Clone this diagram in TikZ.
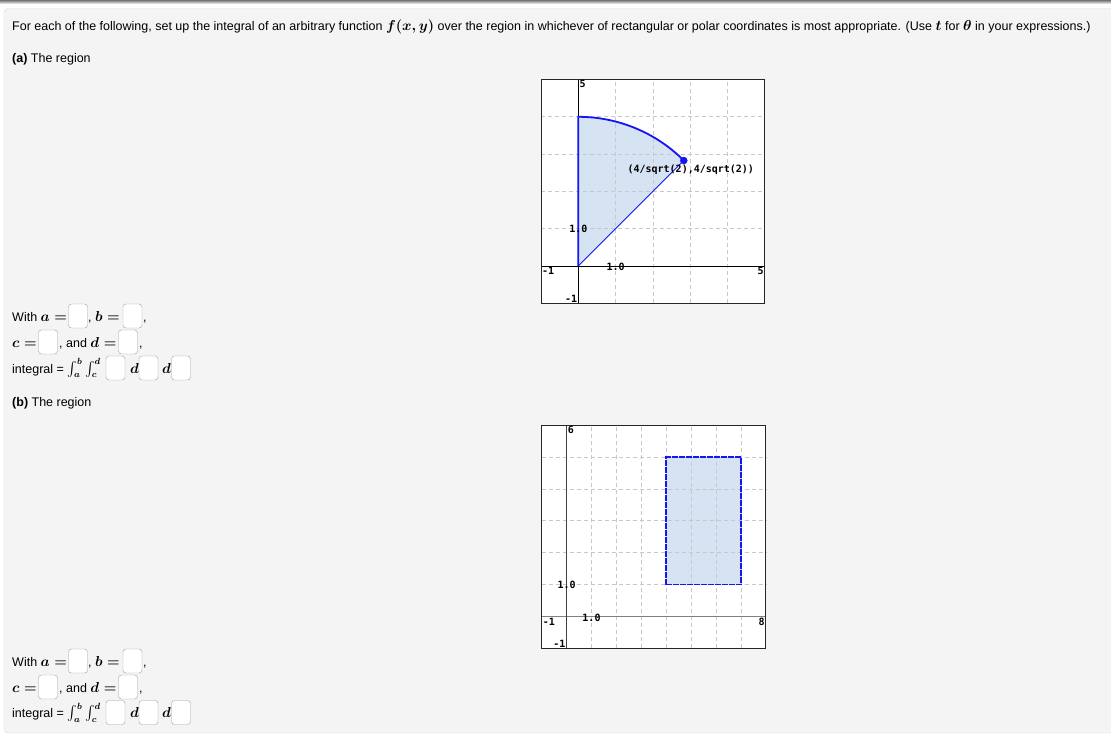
\documentclass[tikz,border=0pt]{standalone}
\usepackage{amsmath}
\usepackage{fontspec}
\setmainfont{Liberation Sans}
\newfontfamily\graphfont{DejaVu Sans Mono}
\DeclareMathSizes{12.5}{14}{9.5}{7}
\definecolor{panelgray}{RGB}{244,244,244}
\definecolor{panelline}{RGB}{221,221,221}
\definecolor{boxgray}{RGB}{160,160,160}
\definecolor{gridgray}{RGB}{200,200,200}
\definecolor{regionblue}{RGB}{213,227,243}
\definecolor{penblue}{RGB}{20,20,245}

\begin{document}
\begin{tikzpicture}[x=1pt, y=-1pt,
  qtext/.style={anchor=base west, inner sep=0pt, font=\fontsize{12.5}{15}\selectfont\boldmath},
  ansbox/.style={draw=boxgray, fill=white, rounded corners=3pt, minimum width=19pt, minimum height=24pt, inner sep=0pt},
  axlabel/.style={inner sep=1pt, font=\fontsize{10}{10}\graphfont\bfseries},
  gridline/.style={draw=gridgray, dash pattern=on 4pt off 3pt, line width=0.8pt}]
\useasboundingbox (0,0) rectangle (1111,748);
\fill[white] (0,0) rectangle (1111,748);
\shade[top color=black!55, bottom color=black!15] (0,0) rectangle (1111,3);
\filldraw[fill=panelgray, draw=panelline, rounded corners=4pt] (4,8.5) rectangle (1116,733);

\path (12,30) node[qtext] (intro) {For each of the following, set up the integral of an arbitrary function $f(x,y)$ over the region in whichever of rectangular or polar coordinates is most appropriate. (Use $t$ for $\theta$ in your expressions.)};
\path (12,62) node[qtext] (parta) {\textbf{(a)} The region};

% graph (a): quarter sector
\begin{scope}[shift={(578.3,266)}, x=37.3pt, y=37.3pt]
\fill[white] (-1,-1) rectangle (5,5);
\fill[regionblue, domain=45:90, samples=60, variable=\t] (0,0) -- plot ({4*cos(\t)}, {4*sin(\t)}) -- cycle;
\foreach \i in {1,...,4} \draw[gridline] (\i,-1) -- (\i,5);
\foreach \i in {1,...,4} \draw[gridline] (-1,\i) -- (5,\i);
\draw[black] (-1,0) -- (5,0);
\draw[black] (0,-1) -- (0,5);
\draw[penblue, line width=1.8pt, domain=45:90, samples=60, variable=\t] plot ({4*cos(\t)}, {4*sin(\t)}) -- (0,0);
\draw[penblue, line width=0.9pt] (0,0) -- (2.828,2.828);
\filldraw[penblue] (2.828,2.828) circle (3.5pt);
\path (2.828,2.828) node[axlabel, xshift=7pt, yshift=-9.5pt] (ptlabel) {(4/sqrt(2),4/sqrt(2))};
\draw[black!85, line width=1pt] (-1,-1) rectangle (5,5);
\path (0,5) node[axlabel, anchor=north west] (ytopa) {5};
\path (-1,0) node[axlabel, anchor=north west] (xlefta) {-1};
\path (5,0) node[axlabel, anchor=north east] (xrighta) {5};
\path (1,0) node[axlabel, yshift=-1pt] (xonea) {1.0};
\path (0,1) node[axlabel] (yonea) {1.0};
\path (0,-1) node[axlabel, anchor=south east] (ybota) {-1};
\end{scope}

\path (12,321) node[qtext] (witha) {With $a=$};
\path (78,316) node[ansbox] (boxaa) {};
\path (88,321) node[qtext] (ba) {, $b=$};
\path (132.5,316) node[ansbox] (boxab) {};
\path (143,321) node[qtext] (commaa) {,};
\path (12,347) node[qtext] (ca) {$c=$};
\path (48,342) node[ansbox] (boxac) {};
\path (59,347) node[qtext] (anda) {, and $d=$};
\path (128,342) node[ansbox] (boxad) {};
\path (139,347) node[qtext] (commab) {,};
\path (12,373) node[qtext] (intega) {integral = $\int_a^b \int_c^d$};
\path (115.5,368) node[ansbox] (boxae) {};
\path (130,373) node[qtext] (da) {$d$};
\path (148.5,368) node[ansbox] (boxaf) {};
\path (162,373) node[qtext] (db) {$d$};
\path (181,368) node[ansbox] (boxag) {};

\path (12,406) node[qtext] (partb) {\textbf{(b)} The region};

% graph (b): rectangle
\begin{scope}[shift={(566.6,616.5)}, x=24.9pt, y=31.9pt]
\fill[white] (-1,-1) rectangle (8,6);
\fill[regionblue] (4,1) rectangle (7,5);
\foreach \i in {1,...,7} \draw[gridline] (\i,-1) -- (\i,6);
\foreach \i in {1,...,5} \draw[gridline] (-1,\i) -- (8,\i);
\draw[black!50, line width=1.6pt] (-1,0) -- (8,0);
\draw[black!75] (0,-1) -- (0,6);
\draw[penblue, line width=1.5pt, dash pattern=on 6pt off 1pt] (4,1) rectangle (7,5);
\draw[black!85, line width=1pt] (-1,-1) rectangle (8,6);
\path (0,6) node[axlabel, anchor=north west] (ytopb) {6};
\path (-1,0) node[axlabel, anchor=north west] (xleftb) {-1};
\path (8,0) node[axlabel, anchor=north east] (xrightb) {8};
\path (1,0) node[axlabel, yshift=-1pt] (xoneb) {1.0};
\path (0,1) node[axlabel] (yoneb) {1.0};
\path (0,-1) node[axlabel, anchor=south east] (ybotb) {-1};
\end{scope}

\path (12,666) node[qtext] (withb) {With $a=$};
\path (78,661) node[ansbox] (boxba) {};
\path (88,666) node[qtext] (bb) {, $b=$};
\path (132.5,661) node[ansbox] (boxbb) {};
\path (143,666) node[qtext] (commac) {,};
\path (12,692) node[qtext] (cb) {$c=$};
\path (48,687) node[ansbox] (boxbc) {};
\path (59,692) node[qtext] (andb) {, and $d=$};
\path (128,687) node[ansbox] (boxbd) {};
\path (139,692) node[qtext] (commad) {,};
\path (12,717.5) node[qtext] (integb) {integral = $\int_a^b \int_c^d$};
\path (115.5,712.5) node[ansbox] (boxbe) {};
\path (130,717.5) node[qtext] (dc) {$d$};
\path (148.5,712.5) node[ansbox] (boxbf) {};
\path (162,717.5) node[qtext] (dd) {$d$};
\path (181,712.5) node[ansbox] (boxbg) {};
\end{tikzpicture}
\end{document}
